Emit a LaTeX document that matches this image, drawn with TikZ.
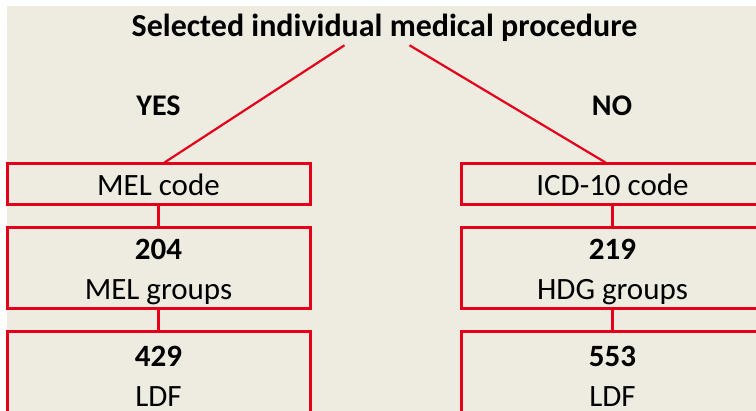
\documentclass[tikz,border=0pt]{standalone}
\usepackage{fontspec}
\setmainfont{Carlito}
\usetikzlibrary{calc}
\definecolor{boxred}{HTML}{E2001A}
\definecolor{paper}{HTML}{EEEBE0}
\newcommand\boxstrut{\rule{0pt}{28pt}}
\begin{document}
\begin{tikzpicture}[x=1pt, y=-1pt,
    box/.style={draw=boxred, line width=3pt, fill=paper, minimum width=303pt,
      inner sep=0pt, align=center, font=\fontsize{31}{40}\selectfont},
    label/.style={font=\bfseries\fontsize{30}{36}\selectfont},
    link/.style={draw=boxred, line width=2.2pt}]
  \useasboundingbox (0,0) rectangle (756,411);
  \clip (0,0) rectangle (756,411);
  \fill[paper] (7,6) rectangle (760,415);
  % heading and the two answers
  \node[font=\bfseries\fontsize{32}{38}\selectfont] (title) at (384.5,28) {Selected individual medical procedure};
  \node[label] (yes) at (158.5,106) {YES};
  \node[label] (no) at (612,106) {NO};
  % left column
  \node[box, minimum height=41pt] (melcode) at (158.5,184.5) {MEL code};
  \node[box, minimum height=81pt] (melgrp) at (158.5,268.5) {\boxstrut\textbf{204}\\MEL groups};
  \node[box, minimum height=81pt] (melldf) at (158.5,372.5) {\boxstrut\textbf{429}\\LDF};
  % right column
  \node[box, minimum height=41pt] (icdcode) at (612.5,184.5) {ICD-10 code};
  \node[box, minimum height=81pt] (hdggrp) at (612.5,268.5) {\boxstrut\textbf{219}\\HDG groups};
  \node[box, minimum height=81pt] (hdgldf) at (612.5,372.5) {\boxstrut\textbf{553}\\LDF};
  % connectors
  \draw[link] ($(title.south)+(-40,0)$) -- ($(melcode.north)+(6,0)$);
  \draw[link] ($(title.south)+(25,0)$) -- ($(icdcode.north)+(-7,0)$);
  \draw[link] (melcode) -- (melgrp);
  \draw[link] (melgrp) -- (melldf);
  \draw[link] (icdcode) -- (hdggrp);
  \draw[link] (hdggrp) -- (hdgldf);
\end{tikzpicture}
\end{document}
